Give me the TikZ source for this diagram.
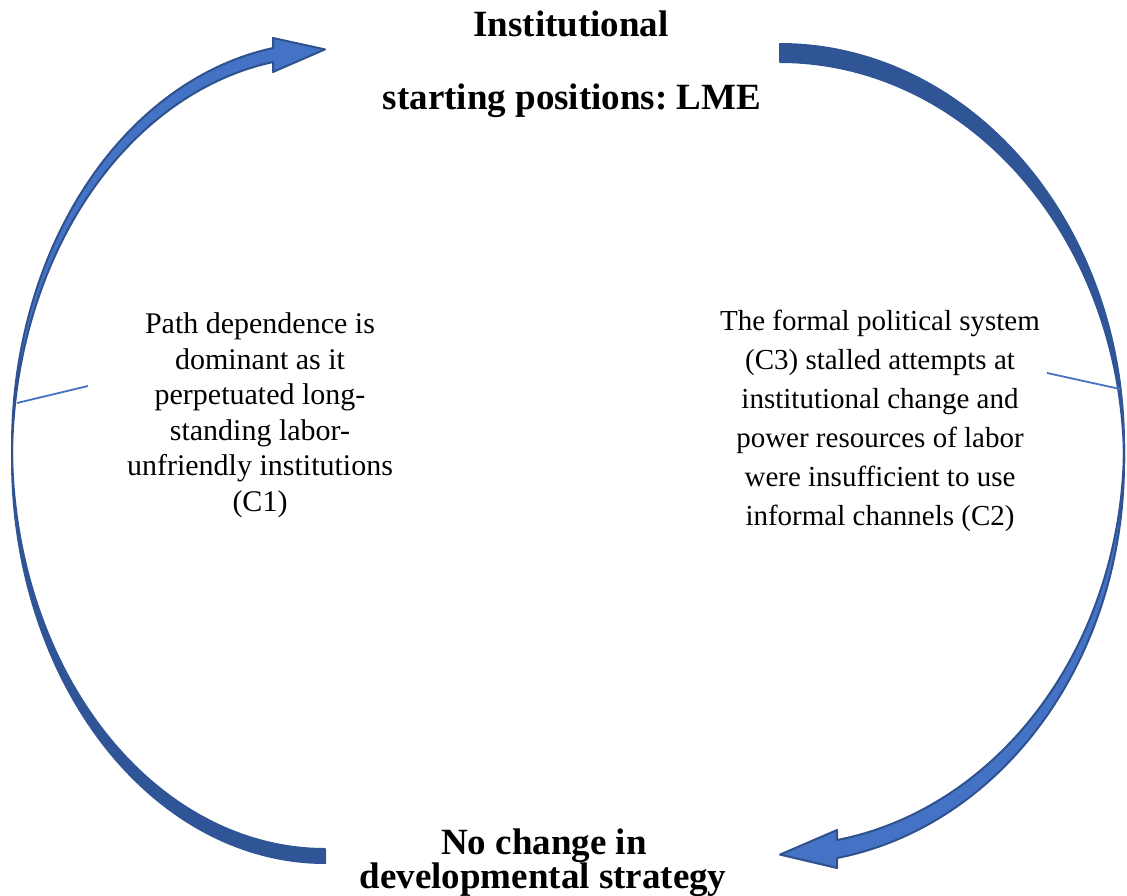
\documentclass[tikz,border=0pt]{standalone}
\usepackage{fontspec}
\setmainfont{Liberation Serif}
\frenchspacing
\definecolor{arrowlight}{HTML}{4472C4}
\definecolor{arrowline}{HTML}{2F528F}
\definecolor{arrowdark}{HTML}{2F5597}
\begin{document}
\begin{tikzpicture}[x=1pt,y=-1pt,
  title/.style={font=\fontsize{37}{44}\selectfont\bfseries, inner sep=0pt, anchor=base},
  leftpara/.style={font=\fontsize{30}{35.5}\selectfont, align=center, inner sep=0pt, anchor=north},
  rightpara/.style={font=\fontsize{29}{38.9}\selectfont, align=center, inner sep=0pt, anchor=north},
  headpart/.style={fill=arrowlight, draw=arrowline, line width=2pt, line join=round},
  tailpart/.style={fill=arrowdark, draw=arrowdark, line width=2pt, line join=round},
  pointer/.style={draw=arrowlight, line width=1.8pt}]
\useasboundingbox (0,0) rectangle (1127,896);

% left curved arrow (tail at bottom, head at top)
\path[tailpart] plot[domain=90:180,samples=90] ({325+313*cos(\x)},{445.7+403.3*sin(\x)})
  -- plot[domain=180:90,samples=90] ({325+313*cos(\x)},{459.7+403.3*sin(\x)}) -- cycle;
\path[headpart] plot[domain=180:260.44,samples=90] ({325+313*cos(\x)},{445.7+403.3*sin(\x)})
  -- (273,38) -- (325,49.4) -- (273,72)
  -- plot[domain=260.44:180,samples=90] ({325+313*cos(\x)},{459.7+403.3*sin(\x)}) -- cycle;

% right curved arrow (tail at top, head at bottom)
\path[tailpart] plot[domain=270:360,samples=90] ({780+344*cos(\x)},{444.8+400.8*sin(\x)})
  -- plot[domain=360:270,samples=90] ({780+344*cos(\x)},{462.8+400.8*sin(\x)}) -- cycle;
\path[headpart] plot[domain=0:80.46,samples=90] ({780+344*cos(\x)},{444.8+400.8*sin(\x)})
  -- (837,830) -- (780,854.6) -- (837,868)
  -- plot[domain=80.46:0,samples=90] ({780+344*cos(\x)},{462.8+400.8*sin(\x)}) -- cycle;

% titles
\node[title] (top1) at (571,37) {Institutional};
\node[title] (top2) at (572,110) {starting positions: LME};
\node[title] (bot1) at (544,854) {No change in};
\node[title] (bot2) at (543,888.5) {developmental strategy};

% explanations
\node[leftpara] (c1) at (260,312.5) {Path dependence is\\dominant as it\\perpetuated long-\\standing labor-\\unfriendly institutions\\(C1)};
\node[rightpara] (c23) at (880,310) {The formal political system\\(C3) stalled attempts at\\institutional change and\\power resources of labor\\were insufficient to use\\informal channels (C2)};

% pointer lines
\coordinate (lpA) at (88,386);
\coordinate (lpB) at (17,403);
\coordinate (rpA) at (1047,373);
\coordinate (rpB) at (1120,389);
\draw[pointer] (lpA) -- (lpB);
\draw[pointer] (rpA) -- (rpB);
\end{tikzpicture}
\end{document}
